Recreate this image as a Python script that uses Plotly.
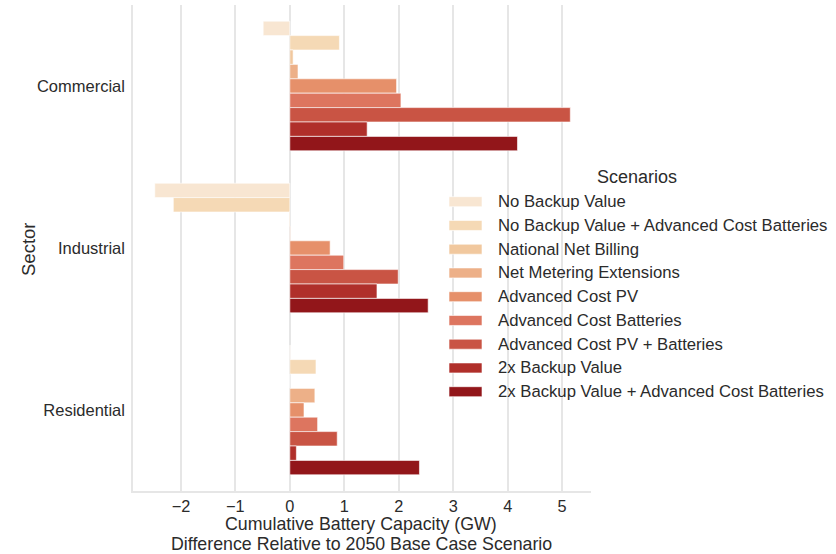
import plotly.graph_objects as go

# Sectors and scenarios
sectors = ["Commercial", "Industrial", "Residential"]
scenarios = [
    "No Backup Value",
    "No Backup Value + Advanced Cost Batteries",
    "National Net Billing",
    "Net Metering Extensions",
    "Advanced Cost PV",
    "Advanced Cost Batteries",
    "Advanced Cost PV + Batteries",
    "2x Backup Value",
    "2x Backup Value + Advanced Cost Batteries",
]

# Cumulative battery capacity difference vs 2050 base case (GW), per scenario: [Commercial, Industrial, Residential]
values = {
    "No Backup Value": [-0.49, -2.48, 0.01],
    "No Backup Value + Advanced Cost Batteries": [0.91, -2.14, 0.48],
    "National Net Billing": [0.06, -0.01, 0.0],
    "Net Metering Extensions": [0.15, 0.01, 0.46],
    "Advanced Cost PV": [1.96, 0.74, 0.26],
    "Advanced Cost Batteries": [2.04, 0.99, 0.51],
    "Advanced Cost PV + Batteries": [5.15, 1.99, 0.87],
    "2x Backup Value": [1.42, 1.60, 0.12],
    "2x Backup Value + Advanced Cost Batteries": [4.18, 2.54, 2.38],
}

colors = [
    "#f8e6d2", "#f5d9b5", "#f1c89e", "#edb088", "#e6906a",
    "#dd755f", "#c95444", "#b02f2a", "#92161a",
]

x_ticks = [-2, -1, 0, 1, 2, 3, 4, 5]
x_title_lines = ["Cumulative Battery Capacity (GW)",
                 "Difference Relative to 2050 Base Case Scenario"]

FONT = "Liberation Sans, Arial, sans-serif"
TEXT = "#2b2b2b"
GRID = "#e6e6e6"

W, H = 836, 554
M_L, M_R, M_T, M_B = 133, 245, 5, 63
plot_w = W - M_L - M_R
plot_h = H - M_T - M_B

fig = go.Figure()
for name, col in zip(scenarios, colors):
    fig.add_trace(go.Bar(
        y=sectors, x=values[name], name=name, orientation="h",
        marker=dict(color=col, line=dict(color="rgba(255,255,255,0.6)", width=1)),
        showlegend=False,
    ))

def px_x(px):
    return (px - M_L) / plot_w

def px_y(py):
    return (H - M_B - py) / plot_h

# Custom legend: wide swatches with labels to the right of the axes
shapes = []
annotations = [dict(
    x=px_x(637), y=px_y(177), xref="paper", yref="paper",
    text="Scenarios", showarrow=False, xanchor="center", yanchor="middle",
    font=dict(family=FONT, size=18, color=TEXT),
)]
row0, row_step = 201.7, 23.75
for i, (name, col) in enumerate(zip(scenarios, colors)):
    cy = row0 + i * row_step
    shapes.append(dict(
        type="rect", xref="paper", yref="paper",
        x0=px_x(449), x1=px_x(482), y0=px_y(cy + 5), y1=px_y(cy - 5),
        fillcolor=col, line=dict(color="rgba(255,255,255,0.6)", width=1),
    ))
    annotations.append(dict(
        x=px_x(496), y=px_y(cy), xref="paper", yref="paper",
        text=name, showarrow=False, xanchor="left", yanchor="middle",
        font=dict(family=FONT, size=16.7, color=TEXT),
    ))

# Axis titles
annotations.append(dict(
    x=px_x(28), y=px_y(250), xref="paper", yref="paper",
    text="Sector", showarrow=False, textangle=-90,
    xanchor="center", yanchor="middle",
    font=dict(family=FONT, size=18.5, color=TEXT),
))
for line, cy in zip(x_title_lines, [523.5, 543.5]):
    annotations.append(dict(
        x=px_x(361), y=px_y(cy), xref="paper", yref="paper",
        text=line, showarrow=False, xanchor="center", yanchor="middle",
        borderpad=0,
        font=dict(family=FONT, size=17.8, color=TEXT),
    ))

fig.update_layout(
    width=W, height=H,
    margin=dict(l=M_L, r=M_R, t=M_T, b=M_B, pad=0, autoexpand=False),
    paper_bgcolor="white", plot_bgcolor="white",
    barmode="group", bargap=0.2, bargroupgap=0,
    font=dict(family=FONT, size=16.5, color=TEXT),
    shapes=shapes, annotations=annotations,
    showlegend=False,
)
fig.update_xaxes(
    automargin=False,
    range=[-2.88, 5.53], tickvals=x_ticks,
    ticktext=["\u2212" + str(-t) if t < 0 else str(t) for t in x_ticks],
    showgrid=True, gridcolor=GRID, gridwidth=1.5,
    zeroline=False, showline=True, linecolor=GRID, linewidth=1.5,
    ticks="",
    tickfont=dict(family=FONT, size=16.3, color=TEXT),
)
fig.update_yaxes(
    automargin=False,
    categoryorder="array", categoryarray=sectors, autorange="reversed",
    showgrid=False, zeroline=False, showline=True, linecolor=GRID, linewidth=1.5,
    ticks="outside", ticklen=3, tickcolor="white",
    tickfont=dict(family=FONT, size=16.5, color=TEXT),
)

fig.write_html("out.html")
